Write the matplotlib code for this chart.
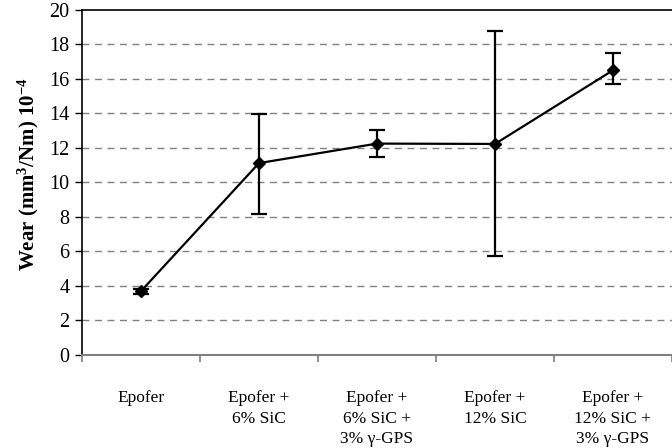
import matplotlib
matplotlib.use('Agg')
import matplotlib.pyplot as plt
import numpy as np

categories = ['Epofer', 'Epofer +\n6% SiC', 'Epofer +\n6% SiC +\n3% \u03b3-GPS',
              'Epofer +\n12% SiC', 'Epofer +\n12% SiC +\n3% \u03b3-GPS']
wear = [3.7, 11.12, 12.25, 12.23, 16.5]
err_low = [3.55, 8.17, 11.47, 5.75, 15.7]
err_high = [3.85, 13.98, 13.02, 18.8, 17.5]
yticks = [0, 2, 4, 6, 8, 10, 12, 14, 16, 18, 20]

plt.rcParams['font.family'] = ['Liberation Serif', 'DejaVu Serif']
plt.rcParams['mathtext.fontset'] = 'custom'
plt.rcParams['mathtext.rm'] = 'Liberation Serif:bold'
plt.rcParams['mathtext.it'] = 'Liberation Serif:bold'
plt.rcParams['mathtext.bf'] = 'Liberation Serif:bold'
plt.rcParams['mathtext.default'] = 'rm'

fig = plt.figure(figsize=(6.72, 4.48), dpi=100)
ax = fig.add_axes([0.122, 0.2076, 0.878, 0.7704])

x = np.arange(len(categories))
w = np.array(wear)
yerr = [w - np.array(err_low), np.array(err_high) - w]

for t in yticks[1:-1]:
    ax.axhline(t, color='#808080', lw=1, ls=(0, (5, 4)), zorder=1)

ax.errorbar(x, w, yerr=yerr, color='black', lw=1.6, marker='D', ms=6,
            capsize=6, capthick=1.6, elinewidth=1.6, zorder=3)

ax.set_xlim(-0.5, len(categories) - 0.5)
ax.set_ylim(0, 20)
ax.set_yticks(yticks)
ax.set_yticklabels([str(t) for t in yticks], fontsize=14.5)

ax.set_xticks(np.arange(len(categories) + 1) - 0.5)
ax.set_xticklabels([])
ax.set_xticks(x, minor=True)
ax.set_xticklabels(categories, minor=True, fontsize=12.5, linespacing=1.4, va='top')
ax.tick_params(axis='x', which='minor', length=0, pad=25)
ax.tick_params(axis='x', which='major', length=5, color='#808080', width=1.2)
ax.tick_params(axis='y', length=5, width=1, direction='out', pad=4)

ax.spines['right'].set_visible(False)
ax.spines['top'].set_color('black')
ax.spines['top'].set_linewidth(1.2)
ax.spines['left'].set_linewidth(1.2)
ax.spines['bottom'].set_color('#808080')
ax.spines['bottom'].set_linewidth(1.5)

ax.set_ylabel('Wear (mm$^3$/Nm) 10$^{-4}$', fontsize=15, fontweight='bold', labelpad=10)
ax.yaxis.set_label_coords(-0.07, 0.525)

fig.savefig('out.png', dpi=100)
